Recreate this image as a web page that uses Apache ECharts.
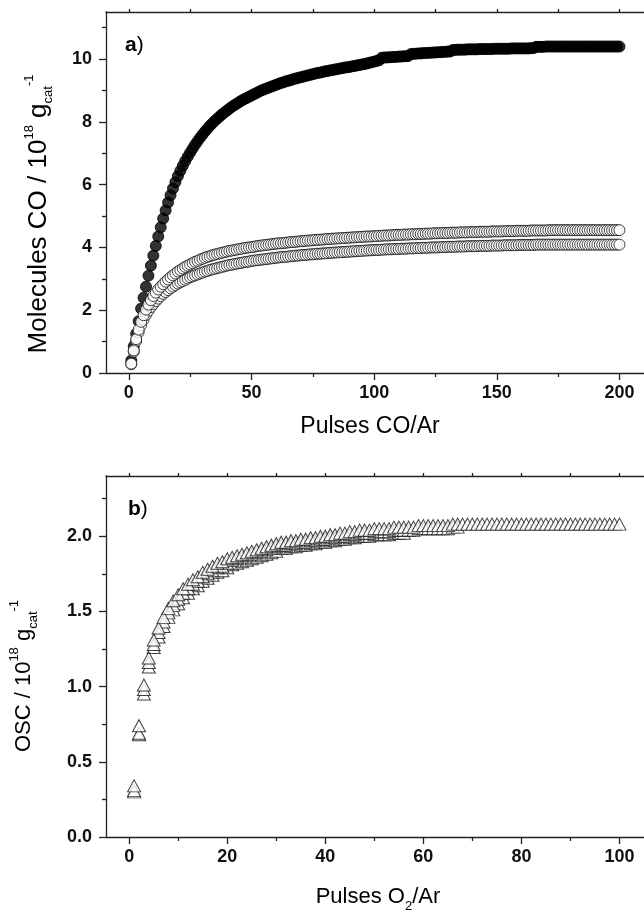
<!DOCTYPE html>
<html><head><meta charset="utf-8">
<script src="https://cdn.jsdelivr.net/npm/echarts@6/dist/echarts.min.js"></script>
<style>html,body{margin:0;padding:0;background:#fff}#c{width:644px;height:912px}</style>
</head><body><div id="c"></div>
<script>
// ---- Data: panel a) Molecules CO (10^18 g_cat^-1) vs pulse number 1..200 ----
const coFilled = [
0.40,0.85,1.25,1.65,2.05,2.40,2.75,3.10,3.42,3.74,
4.05,4.35,4.64,4.92,5.18,5.43,5.66,5.88,6.08,6.27,
6.44,6.60,6.75,6.89,7.02,7.15,7.27,7.38,7.49,7.59,
7.69,7.78,7.87,7.95,8.03,8.10,8.17,8.24,8.30,8.36,
8.42,8.48,8.53,8.58,8.63,8.68,8.72,8.76,8.80,8.84,
8.88,8.92,8.96,9.00,9.03,9.06,9.09,9.12,9.15,9.18,
9.21,9.24,9.26,9.29,9.31,9.33,9.36,9.38,9.40,9.42,
9.44,9.46,9.48,9.50,9.52,9.54,9.56,9.57,9.59,9.61,
9.62,9.64,9.65,9.67,9.68,9.70,9.71,9.73,9.74,9.75,
9.77,9.78,9.80,9.81,9.83,9.84,9.86,9.88,9.90,9.92,
9.94,9.96,10.04,10.05,10.05,10.06,10.06,10.07,10.07,10.08,
10.08,10.09,10.09,10.10,10.16,10.17,10.17,10.18,10.18,10.19,
10.19,10.20,10.20,10.21,10.21,10.22,10.22,10.23,10.23,10.24,
10.24,10.29,10.29,10.30,10.30,10.30,10.30,10.31,10.31,10.31,
10.31,10.31,10.32,10.32,10.32,10.32,10.32,10.32,10.33,10.33,
10.33,10.33,10.33,10.33,10.33,10.34,10.34,10.34,10.34,10.34,
10.34,10.34,10.34,10.35,10.35,10.39,10.39,10.39,10.39,10.40,
10.40,10.40,10.40,10.40,10.40,10.40,10.40,10.40,10.40,10.40,
10.40,10.40,10.40,10.40,10.40,10.40,10.40,10.40,10.40,10.40,
10.40,10.40,10.40,10.40,10.40,10.40,10.40,10.40,10.40,10.40
];
const coOpenUpper = [
0.30,0.72,1.08,1.38,1.63,1.84,2.02,2.18,2.32,2.45,
2.56,2.66,2.75,2.83,2.91,2.98,3.05,3.11,3.17,3.23,
3.28,3.33,3.38,3.42,3.46,3.50,3.54,3.57,3.61,3.64,
3.67,3.70,3.72,3.75,3.77,3.79,3.81,3.83,3.85,3.87,
3.89,3.90,3.92,3.93,3.95,3.96,3.98,3.99,4.00,4.01,
4.02,4.04,4.05,4.06,4.07,4.08,4.09,4.10,4.11,4.12,
4.13,4.13,4.14,4.15,4.16,4.17,4.17,4.18,4.19,4.20,
4.20,4.21,4.22,4.22,4.23,4.24,4.24,4.25,4.25,4.26,
4.27,4.27,4.28,4.28,4.29,4.29,4.30,4.30,4.31,4.31,
4.32,4.32,4.33,4.33,4.34,4.34,4.35,4.35,4.35,4.36,
4.36,4.37,4.37,4.38,4.38,4.38,4.39,4.39,4.40,4.40,
4.40,4.41,4.41,4.41,4.42,4.42,4.42,4.43,4.43,4.43,
4.44,4.44,4.44,4.45,4.45,4.45,4.46,4.46,4.46,4.46,
4.47,4.47,4.47,4.47,4.48,4.48,4.48,4.48,4.49,4.49,
4.49,4.49,4.50,4.50,4.50,4.50,4.50,4.51,4.51,4.51,
4.51,4.51,4.52,4.52,4.52,4.52,4.52,4.53,4.53,4.53,
4.53,4.53,4.53,4.54,4.54,4.54,4.54,4.54,4.54,4.54,
4.55,4.55,4.55,4.55,4.55,4.55,4.55,4.55,4.55,4.55,
4.55,4.55,4.55,4.55,4.55,4.55,4.55,4.55,4.55,4.55,
4.55,4.55,4.55,4.55,4.55,4.55,4.55,4.55,4.55,4.55
];
const coOpenLower = [
0.28,0.68,1.02,1.30,1.52,1.70,1.85,1.98,2.10,2.20,
2.29,2.37,2.45,2.52,2.58,2.64,2.70,2.75,2.80,2.85,
2.89,2.93,2.97,3.01,3.05,3.08,3.11,3.14,3.17,3.20,
3.23,3.25,3.28,3.30,3.32,3.34,3.36,3.38,3.40,3.42,
3.44,3.45,3.47,3.48,3.50,3.51,3.53,3.54,3.55,3.57,
3.58,3.59,3.60,3.61,3.62,3.63,3.64,3.65,3.66,3.67,
3.68,3.69,3.70,3.70,3.71,3.72,3.73,3.74,3.74,3.75,
3.76,3.76,3.77,3.78,3.78,3.79,3.80,3.80,3.81,3.81,
3.82,3.83,3.83,3.84,3.84,3.85,3.85,3.86,3.86,3.87,
3.87,3.88,3.88,3.89,3.89,3.90,3.90,3.91,3.91,3.92,
3.92,3.92,3.93,3.93,3.94,3.94,3.94,3.95,3.95,3.95,
3.96,3.96,3.96,3.97,3.97,3.97,3.98,3.98,3.98,3.99,
3.99,3.99,4.00,4.00,4.00,4.00,4.01,4.01,4.01,4.02,
4.02,4.02,4.02,4.03,4.03,4.03,4.03,4.04,4.04,4.04,
4.04,4.04,4.05,4.05,4.05,4.05,4.05,4.06,4.06,4.06,
4.06,4.06,4.07,4.07,4.07,4.07,4.07,4.07,4.08,4.08,
4.08,4.08,4.08,4.08,4.08,4.09,4.09,4.09,4.09,4.09,
4.09,4.09,4.09,4.09,4.09,4.09,4.09,4.09,4.09,4.09,
4.09,4.09,4.09,4.09,4.09,4.09,4.09,4.09,4.09,4.09,
4.09,4.09,4.09,4.09,4.09,4.09,4.09,4.09,4.09,4.09
];
// ---- Data: panel b) OSC (10^18 g_cat^-1) vs O2 pulse number ----
const oscUpper = [
0.34,0.74,1.01,1.19,1.31,1.39,1.46,1.52,1.57,1.61,
1.65,1.68,1.71,1.73,1.76,1.78,1.80,1.82,1.83,1.85,
1.86,1.87,1.88,1.89,1.90,1.91,1.92,1.93,1.94,1.95,
1.96,1.96,1.97,1.97,1.98,1.98,1.99,1.99,2.00,2.00,
2.01,2.01,2.02,2.02,2.03,2.03,2.04,2.04,2.04,2.05,
2.05,2.05,2.05,2.06,2.06,2.06,2.06,2.06,2.07,2.07,
2.07,2.07,2.07,2.07,2.07,2.08,2.08,2.08,2.08,2.08,
2.08,2.08,2.08,2.08,2.08,2.08,2.08,2.08,2.08,2.08,
2.08,2.08,2.08,2.08,2.08,2.08,2.08,2.08,2.08,2.08,
2.08,2.08,2.08,2.08,2.08,2.08,2.08,2.08,2.08,2.08
];
const oscMiddle = [
0.31,0.69,0.98,1.16,1.28,1.36,1.43,1.49,1.54,1.58,
1.62,1.65,1.68,1.70,1.73,1.75,1.77,1.79,1.80,1.82,
1.84,1.85,1.86,1.87,1.88,1.89,1.90,1.91,1.92,1.93,
1.94,1.94,1.95,1.95,1.96,1.96,1.97,1.97,1.98,1.98,
1.99,1.99,2.00,2.00,2.01,2.01,2.02,2.02,2.02,2.03,
2.03,2.03,2.03,2.04,2.04,2.04,2.04,2.04,2.05,2.05,
2.05,2.05,2.05,2.05,2.05,2.06,2.06
];
const oscLower = [
0.30,0.68,0.95,1.13,1.26,1.33,1.40,1.46,1.51,1.55,
1.59,1.62,1.65,1.67,1.70,1.72,1.74,1.76,1.77,1.79,
1.81,1.82,1.83,1.84,1.85,1.86,1.87,1.88,1.89,1.90,
1.92,1.92,1.93,1.93,1.94,1.94,1.95,1.95,1.96,1.96,
1.97,1.97,1.98,1.98,1.99,1.99,2.00,2.00,2.00,2.01,
2.01,2.01,2.01,2.02,2.02,2.02
];
// ---- Tick values ----
const aXMajor = [0,50,100,150,200];
const aXMinor = [25,75,125,175];
const aYMajor = [0,2,4,6,8,10];
const aYMinor = [1,3,5,7,9,11];
const bXMajor = [0,20,40,60,80,100];
const bXMinor = [10,30,50,70,90];
const bYMajor = [0,0.5,1.0,1.5,2.0];
const bYMinor = [0.25,0.75,1.25,1.75,2.25];

const FONT = '"Liberation Sans", Arial, Helvetica, sans-serif';
const INK = '#111111';
const AX = '#222222';

function pts(arr){ return arr.map((v,i)=>[i+1,v]); }

function xMain(grid,min,max,major,fmt){
  return {gridIndex:grid,type:'value',position:'bottom',min:min,max:max,
    axisLine:{show:true,onZero:false,lineStyle:{color:AX,width:1.3}},
    axisTick:{show:true,customValues:major,length:7,inside:false,lineStyle:{color:AX,width:1.3}},
    axisLabel:{show:true,customValues:major,margin:11,color:INK,fontFamily:FONT,fontWeight:'bold',fontSize:18,formatter:fmt},
    splitLine:{show:false}};
}
function xMinorAx(grid,min,max,minor){
  return {gridIndex:grid,type:'value',position:'bottom',min:min,max:max,
    axisLine:{show:false,onZero:false},
    axisTick:{show:true,customValues:minor,length:4,inside:false,lineStyle:{color:AX,width:1.3}},
    axisLabel:{show:false},splitLine:{show:false}};
}
function xTopAx(grid,min,max,all){
  return {gridIndex:grid,type:'value',position:'top',min:min,max:max,
    axisLine:{show:true,onZero:false,lineStyle:{color:AX,width:1.3}},
    axisTick:{show:true,customValues:all,length:3,inside:false,lineStyle:{color:AX,width:1.3}},
    axisLabel:{show:false},splitLine:{show:false}};
}
function yMain(grid,min,max,major,fmt){
  return {gridIndex:grid,type:'value',position:'left',min:min,max:max,
    axisLine:{show:true,onZero:false,lineStyle:{color:AX,width:1.3}},
    axisTick:{show:true,customValues:major,length:7,inside:false,lineStyle:{color:AX,width:1.3}},
    axisLabel:{show:true,customValues:major,margin:14,color:INK,fontFamily:FONT,fontWeight:'bold',fontSize:18,formatter:fmt},
    splitLine:{show:false}};
}
function yMinorAx(grid,min,max,minor){
  return {gridIndex:grid,type:'value',position:'left',min:min,max:max,
    axisLine:{show:false,onZero:false},
    axisTick:{show:true,customValues:minor,length:4,inside:false,lineStyle:{color:AX,width:1.3}},
    axisLabel:{show:false},splitLine:{show:false}};
}

const openStyle = {color:'#ffffff',borderColor:INK,borderWidth:1};
const filledStyle = {color:'#000000',borderColor:'#000000',borderWidth:1};
const triStyle = {color:'#ffffff',borderColor:INK,borderWidth:1};

function rich(main){
  return {
    m:{fontSize:main,fontFamily:FONT,color:INK,lineHeight:32},
    sup:{fontSize:13,fontFamily:FONT,color:INK,lineHeight:12,verticalAlign:'top'},
    sub:{fontSize:13,fontFamily:FONT,color:INK,lineHeight:2,verticalAlign:'bottom'},
    sub2:{fontSize:13,fontFamily:FONT,color:INK,lineHeight:8,verticalAlign:'bottom'},
    b:{fontSize:21,fontFamily:FONT,fontWeight:'bold',color:INK},
    r:{fontSize:21,fontFamily:FONT,color:INK}
  };
}

const chart = echarts.init(document.getElementById('c'), null, {renderer:'canvas'});
chart.setOption({
  animation:false,
  backgroundColor:'#ffffff',
  grid:[
    {left:106,top:12,right:-2.2,bottom:539,containLabel:false},
    {left:106,top:476,right:-2.3,bottom:75,containLabel:false}
  ],
  xAxis:[
    xMain(0,-9.3,210,aXMajor,v=>String(v)),
    xMinorAx(0,-9.3,210,aXMinor),
    xTopAx(0,-9.3,210,aXMajor.concat(aXMinor)),
    xMain(1,-4.73,105,bXMajor,v=>String(v)),
    xMinorAx(1,-4.73,105,bXMinor),
    xTopAx(1,-4.73,105,bXMajor.concat(bXMinor))
  ],
  yAxis:[
    yMain(0,0,11.5,aYMajor,v=>String(v)),
    yMinorAx(0,0,11.5,aYMinor),
    yMain(1,0,2.4,bYMajor,v=>v.toFixed(1)),
    yMinorAx(1,0,2.4,bYMinor)
  ],
  series:[
    {type:'scatter',xAxisIndex:0,yAxisIndex:0,data:pts(coFilled),symbol:'circle',symbolSize:11,itemStyle:filledStyle,silent:true},
    {type:'scatter',xAxisIndex:0,yAxisIndex:0,data:pts(coOpenLower),symbol:'circle',symbolSize:11,itemStyle:openStyle,silent:true},
    {type:'scatter',xAxisIndex:0,yAxisIndex:0,data:pts(coOpenUpper),symbol:'circle',symbolSize:11,itemStyle:openStyle,silent:true},
    {type:'scatter',xAxisIndex:3,yAxisIndex:2,data:pts(oscLower),symbol:'triangle',symbolSize:[13,12],itemStyle:triStyle,silent:true},
    {type:'scatter',xAxisIndex:3,yAxisIndex:2,data:pts(oscMiddle),symbol:'triangle',symbolSize:[13,12],itemStyle:triStyle,silent:true},
    {type:'scatter',xAxisIndex:3,yAxisIndex:2,data:pts(oscUpper),symbol:'triangle',symbolSize:[13,12],itemStyle:triStyle,silent:true}
  ],
  graphic:[
    {type:'text',x:39,y:214,rotation:Math.PI/2,silent:true,
      style:{text:'{m|Molecules CO / 10}{sup|18}{m| g}{sub|cat}{sup|-1}',align:'center',verticalAlign:'middle',rich:rich(26)}},
    {type:'text',x:24,y:676,rotation:Math.PI/2,silent:true,
      style:{text:'{m|OSC / 10}{sup|18}{m| g}{sub|cat}{sup|-1}',align:'center',verticalAlign:'middle',rich:rich(22)}},
    {type:'text',x:370,y:427,silent:true,
      style:{text:'{m|Pulses CO/Ar}',align:'center',verticalAlign:'middle',rich:rich(23)}},
    {type:'text',x:378,y:897,silent:true,
      style:{text:'{m|Pulses O}{sub2|2}{m|/Ar}',align:'center',verticalAlign:'middle',rich:rich(22)}},
    {type:'text',x:125,y:45,silent:true,
      style:{text:'{b|a}{r|)}',align:'left',verticalAlign:'middle',rich:rich(22)}},
    {type:'text',x:128,y:509,silent:true,
      style:{text:'{b|b}{r|)}',align:'left',verticalAlign:'middle',rich:rich(22)}}
  ]
});
</script></body></html>
